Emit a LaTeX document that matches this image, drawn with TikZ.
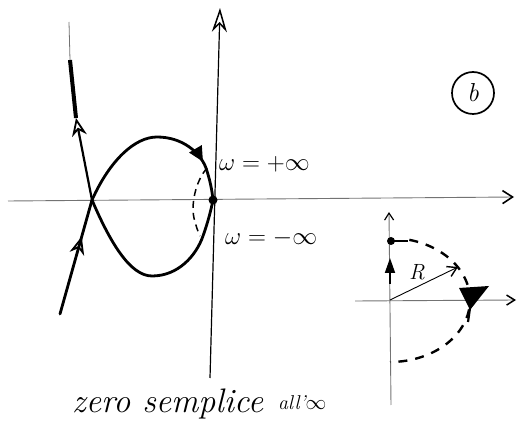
\documentclass[tikz,border=0pt]{standalone}
\usetikzlibrary{arrows.meta,decorations.markings}
\begin{document}
\begin{tikzpicture}[x=1pt,y=-1pt,
  curve/.style={line width=2.8pt, line cap=round},
  axisline/.style={line width=1.2pt},
  faint/.style={line width=0.9pt, black!55},
  dashcurve/.style={line width=2.4pt, dash pattern=on 9pt off 8pt},
  lbl/.style={font=\fontsize{23}{27}\selectfont, inner sep=0pt},
  dot/.style={circle, fill, inner sep=0pt, minimum size=9pt}]
\useasboundingbox (0,0) rectangle (517,435);
% coordinates
\coordinate (X) at (92,200);
\coordinate (vb) at (210,378);
\coordinate (vt) at (220,8);
\coordinate (hl) at (8,201);
\coordinate (hr) at (514,197);
\coordinate (Oc) at (213,200);
% main axes
\draw[axisline, -{Stealth[open, length=24pt, width=15pt, line width=1.5pt]}] (vb) -- (vt);
\draw[faint, -{Straight Barb[length=10pt, width=13pt, line width=1.6pt, color=black]}] (hl) -- (hr);
% upper arc
\draw[curve, postaction={decorate}, decoration={markings, mark=at position 0.79 with {\arrow{Triangle[length=15pt,width=14pt]}}}]
  (X) .. controls (110,160) and (135,137) .. (157,137)
      .. controls (182,137) and (200,152) .. (206,168)
      .. controls (210,180) and (212,190) .. (Oc);
% lower arc
\draw[curve]
  (X) .. controls (110,242) and (130,276) .. (152,276)
      .. controls (178,276) and (196,256) .. (203,236)
      .. controls (208,222) and (211,210) .. (Oc);
% dashed small arc
\coordinate (da) at (207,168);
\coordinate (db) at (200,236);
\draw[line width=1.5pt, dash pattern=on 7pt off 5pt]
  (da) .. controls (195,182) and (191,205) .. (194,218)
       .. controls (196,226) and (198,232) .. (db);
% upper-left branch
\coordinate (U1) at (76,118);
\coordinate (U2) at (70,60);
\coordinate (U3) at (69,22);
\draw[line width=2.2pt, -{Stealth[open, length=18pt, width=15pt, line width=1.8pt]}] (X) -- (U1);
\draw[line width=4pt] (U1) -- (U2);
\draw[faint, line width=0.8pt] (U2) -- (U3);
% lower-left branch
\coordinate (L0) at (60,314);
\draw[curve, postaction={decorate}, decoration={markings, mark=at position 0.68 with {\arrow{Stealth[open, length=18pt, width=15pt, line width=1.8pt]}}}] (L0) -- (X);
% origin dot
\node[dot] (O) at (Oc) {};
% labels
\node[lbl, anchor=west] (wp) at (219,164) {$\omega=+\infty$};
\node[lbl, anchor=west] (wm) at (225,238) {$\omega=-\infty$};
\node[circle, draw, line width=1.7pt, minimum size=42pt, inner sep=0pt, font=\fontsize{26}{30}\selectfont\itshape] (b) at (473,93) {b};
% inset
\coordinate (io) at (390,300);
\coordinate (ib) at (391,405);
\coordinate (it) at (389,212);
\coordinate (il) at (355,301);
\coordinate (ir) at (516,300);
\draw[faint, -{Straight Barb[length=7pt, width=9pt, line width=1.2pt, color=black]}] (ib) -- (it);
\draw[faint, -{Straight Barb[length=8pt, width=10pt, line width=1.5pt, color=black]}] (il) -- (ir);
\coordinate (ua1) at (390,284);
\coordinate (ua2) at (390,258);
\draw[line width=1.8pt, -{Triangle[length=15pt, width=10pt]}] (ua1) -- (ua2);
\node[dot, minimum size=8pt] (td) at (391,241) {};
\coordinate (ts) at (408,241);
\draw[line width=2.8pt] (td.center) -- (ts);
\draw[dashcurve] plot[domain=-76:90, samples=60] ({390+80*cos(\x)}, {300+62*sin(\x)});
\fill (459,288) -- (489,286) -- (470,310) -- cycle;
\coordinate (tl1) at (470,308);
\coordinate (tl2) at (468,322);
\draw[line width=2.2pt] (tl1) -- (tl2);
\coordinate (rt) at (458,267);
\draw[line width=0.9pt, -{Straight Barb[length=9pt, width=11pt, line width=1.4pt]}] (io) -- (rt);
\node[font=\fontsize{22}{26}\selectfont\itshape, inner sep=0pt] (R) at (417,272) {R};
% bottom text
\node[anchor=base west, inner sep=0pt, font=\fontsize{34}{38}\selectfont\itshape] (t1) at (72,413) {zero semplice};
\node[anchor=base west, inner sep=0pt, font=\fontsize{20}{24}\selectfont\itshape] (t2) at (278,410) {all'$\infty$};
\end{tikzpicture}
\end{document}
